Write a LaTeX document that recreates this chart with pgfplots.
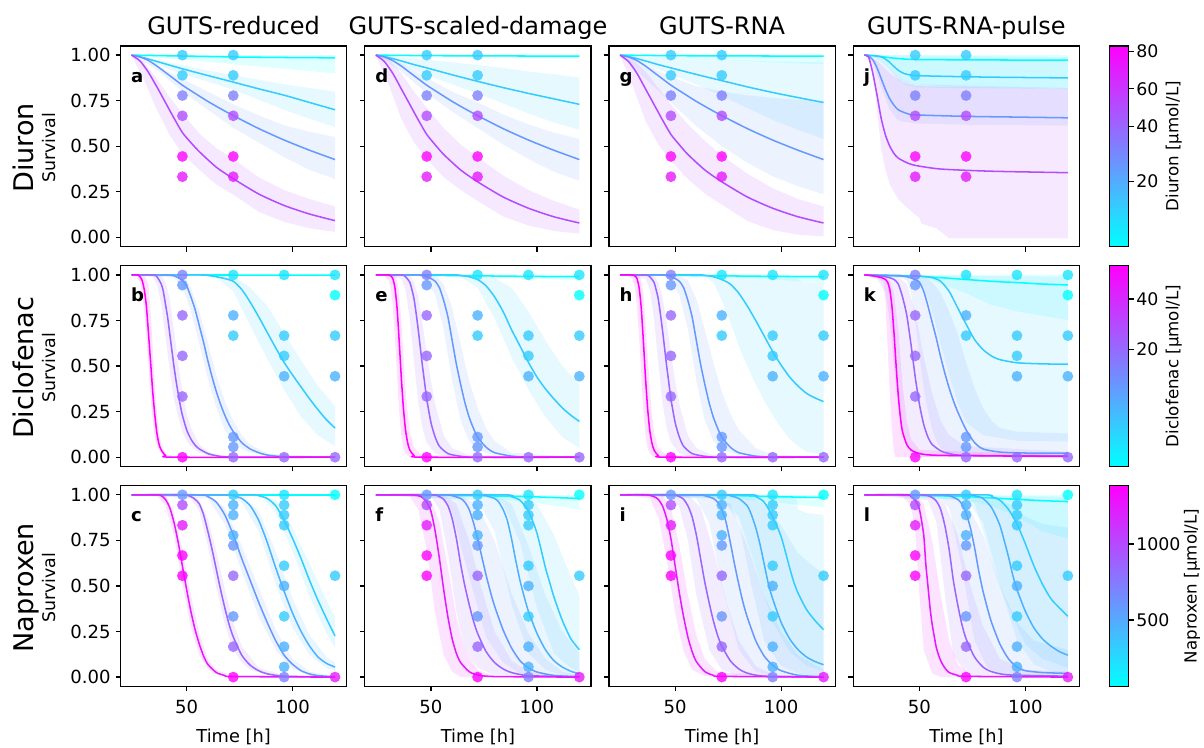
\documentclass[border=0pt]{standalone}
\usepackage{fontspec}
\setmainfont{DejaVu Sans}
\usepackage{pgfplots}
\pgfplotsset{compat=1.18}
\definecolor{k0}{rgb}{0,1,1}
\definecolor{k1}{rgb}{0.1,0.9,1}
\definecolor{k2}{rgb}{0.2,0.8,1}
\definecolor{k3}{rgb}{0.3,0.7,1}
\definecolor{k4}{rgb}{0.4,0.6,1}
\definecolor{k5}{rgb}{0.5,0.5,1}
\definecolor{k6}{rgb}{0.6,0.4,1}
\definecolor{k7}{rgb}{0.7,0.3,1}
\definecolor{k8}{rgb}{0.8,0.2,1}
\definecolor{k9}{rgb}{0.9,0.1,1}
\definecolor{k10}{rgb}{1,0,1}
\pgfplotsset{
  colormap={coolmap}{rgb=(0,1,1) rgb=(1,0,1)},
  panel/.style={
    scale only axis, width=162.86pt, height=144.36pt, anchor=north west,
    xmin=18.8, xmax=125.5, ymin=-0.05, ymax=1.05,
    xtick={50,100}, ytick={0,0.25,0.5,0.75,1},
    xticklabels={}, yticklabels={},
    xtick pos=left, ytick pos=left,
    tick align=outside, major tick length=3.6pt,
    axis line style={line width=0.9pt, black},
    tick style={line width=0.9pt, black},
    tick label style={font=\fontsize{13}{15}\selectfont, black},
    xticklabel style={yshift=-2.9pt},
  },
  ylab/.style={yticklabels={0.00,0.25,0.50,0.75,1.00}},
  xlab/.style={xticklabels={50,100}},
  cbar/.style={colorbar, point meta min=0, point meta max=1,
    colorbar style={scale only axis, width=13.97pt, height=144.36pt,
      at={(parent axis.north east)}, anchor=north west, xshift=12.8pt,
      ytick pos=right, yticklabel pos=right,
      tick align=outside, major tick length=3.6pt,
      tick style={line width=0.9pt, black},
      axis line style={line width=0.9pt, black},
      tick label style={font=\fontsize{12.5}{15}\selectfont},
      yticklabel style={xshift=-1.5pt},
      #1}},
}
\newcommand{\cv}[3][]{\addplot[#2, line width=1.1pt, mark=none, smooth, tension=0.4, #1] coordinates {#3};}
\newcommand{\bd}[2]{\addplot[fill=#1, fill opacity=0.12, draw=none, mark=none] coordinates {#2} -- cycle;}
\newcommand{\dts}[2]{\addplot[only marks, mark=*, mark size=3.9pt, mark options={fill=#1, draw opacity=0, fill opacity=0.8}] coordinates {#2};}
\newcommand{\lett}[1]{\node[anchor=base west, font=\bfseries\fontsize{13}{15}\selectfont] at (rel axis cs:0.025,0.82) {#1};}
\newcommand{\dotsDiu}{%
\dts{k2}{(48,1)(72,1)(48,0.889)(72,0.889)}
\dts{k5}{(48,0.778)(72,0.778)}
\dts{k7}{(48,0.667)(72,0.667)}
\dts{k10}{(48,0.444)(72,0.444)}
\dts{k9}{(48,0.333)(72,0.333)}}
\newcommand{\dotsDic}{%
\dts{k0}{(120,0.889)}
\dts{k1}{(72,1)(96,1)(120,1)}
\dts{k2}{(72,0.667)(96,0.667)(120,0.667)(96,0.556)}
\dts{k3}{(72,0.778)(96,0.444)(120,0.444)}
\dts{k4}{(48,0.944)(72,0.111)(72,0.056)}
\dts{k5}{(48,1)}
\dts{k6}{(48,0.778)(48,0.556)(48,0.333)(72,0)(96,0)(120,0)}
\dts{k10}{(48,0)}}
\newcommand{\dotsNap}{%
\dts{k0}{(120,1)}
\dts{k1}{(96,1)}
\dts{k2}{(72,1)(96,0.944)(96,0.889)(96,0.833)(96,0.611)(96,0.333)(120,0.556)}
\dts{k3}{(72,0.944)(72,0.889)(72,0.778)(96,0.5)(96,0.167)(96,0.056)}
\dts{k4}{(48,1)(72,0.722)(72,0.333)}
\dts{k5}{(96,0)}
\dts{k6}{(72,0.556)(72,0.167)}
\dts{k7}{(48,0.944)}
\dts{k9}{(48,0.833)(120,0)}
\dts{k10}{(48,0.667)(48,0.556)(72,0)}}
\begin{document}
\begin{tikzpicture}
\path[use as bounding box] (0pt,0pt) rectangle (866.88pt,-537.84pt);
% ================= Row 1: Diuron =================
\begin{axis}[panel, ylab, at={(86.76pt,-33.12pt)}]
\bd{k0}{(24,1)(120,1)(120,0.90)(96,0.925)(72,0.95)(48,0.975)(24,1)}
\bd{k2}{(24,1)(36,0.975)(48,0.945)(60,0.915)(72,0.89)(84,0.865)(96,0.84)(108,0.82)(120,0.80)(120,0.605)(108,0.65)(96,0.70)(84,0.755)(72,0.81)(60,0.855)(48,0.895)(36,0.95)(24,1)}
\bd{k4}{(24,1)(36,0.94)(48,0.87)(60,0.80)(72,0.73)(84,0.67)(96,0.615)(108,0.58)(120,0.55)(120,0.32)(108,0.37)(96,0.44)(84,0.52)(72,0.60)(60,0.70)(48,0.80)(36,0.92)(24,1)}
\bd{k7}{(24,1)(30,0.96)(36,0.87)(42,0.77)(48,0.68)(56,0.57)(64,0.49)(72,0.43)(84,0.33)(96,0.26)(108,0.21)(120,0.17)(120,0.03)(108,0.05)(96,0.085)(84,0.14)(72,0.235)(64,0.29)(56,0.37)(48,0.46)(42,0.56)(36,0.70)(30,0.86)(24,1)}
\cv{k0}{(24,1)(48,0.995)(72,0.99)(96,0.987)(120,0.985)}
\cv{k2}{(24,1)(30,0.985)(36,0.965)(42,0.945)(48,0.925)(60,0.888)(72,0.852)(84,0.815)(96,0.78)(108,0.74)(120,0.70)}
\cv{k4}{(24,1)(28,0.99)(32,0.97)(36,0.94)(40,0.905)(44,0.87)(48,0.835)(54,0.79)(60,0.746)(66,0.706)(72,0.668)(84,0.597)(96,0.534)(108,0.478)(120,0.427)}
\cv{k7}{(24,1)(28,0.968)(32,0.905)(36,0.825)(40,0.74)(44,0.655)(48,0.575)(52,0.52)(56,0.47)(64,0.385)(72,0.322)(84,0.238)(96,0.175)(108,0.128)(120,0.092)}
\dotsDiu
\lett{a}
\end{axis}
\begin{axis}[panel, at={(262.66pt,-33.12pt)}]
\bd{k0}{(24,1)(120,1)(120,0.98)(72,0.99)(24,1)}
\bd{k2}{(24,1)(36,0.99)(48,0.975)(60,0.96)(72,0.945)(84,0.93)(96,0.91)(108,0.895)(120,0.877)(120,0.59)(108,0.63)(96,0.68)(84,0.735)(72,0.79)(60,0.84)(48,0.89)(36,0.945)(24,1)}
\bd{k4}{(24,1)(36,0.955)(48,0.875)(60,0.80)(72,0.74)(84,0.675)(96,0.62)(108,0.575)(120,0.54)(120,0.31)(108,0.36)(96,0.43)(84,0.51)(72,0.60)(60,0.69)(48,0.79)(36,0.91)(24,1)}
\bd{k7}{(24,1)(30,0.98)(36,0.9)(42,0.80)(48,0.71)(56,0.60)(64,0.51)(72,0.44)(84,0.34)(96,0.26)(108,0.2)(120,0.153)(120,0.02)(108,0.035)(96,0.065)(84,0.115)(72,0.2)(64,0.26)(56,0.33)(48,0.43)(42,0.52)(36,0.65)(30,0.84)(24,1)}
\cv{k0}{(24,1)(48,0.997)(72,0.996)(120,0.994)}
\cv{k2}{(24,1)(30,0.987)(36,0.968)(42,0.948)(48,0.93)(60,0.892)(72,0.856)(84,0.822)(96,0.79)(108,0.76)(120,0.73)}
\cv{k4}{(24,1)(28,0.99)(32,0.97)(36,0.94)(40,0.905)(44,0.87)(48,0.835)(54,0.79)(60,0.746)(66,0.706)(72,0.668)(84,0.597)(96,0.534)(108,0.478)(120,0.427)}
\cv{k7}{(24,1)(28,0.965)(32,0.9)(36,0.815)(40,0.73)(44,0.645)(48,0.565)(52,0.508)(56,0.455)(64,0.37)(72,0.305)(84,0.222)(96,0.16)(108,0.113)(120,0.079)}
\dotsDiu
\lett{d}
\end{axis}
\begin{axis}[panel, at={(438.48pt,-33.12pt)}]
\bd{k0}{(24,1)(120,1)(120,0.95)(96,0.96)(72,0.975)(48,0.99)(24,1)}
\bd{k2}{(24,1)(48,0.99)(72,0.975)(96,0.965)(120,0.96)(120,0.54)(108,0.59)(96,0.645)(84,0.71)(72,0.775)(60,0.84)(48,0.895)(36,0.95)(24,1)}
\bd{k4}{(24,1)(36,0.95)(48,0.88)(60,0.83)(72,0.80)(84,0.78)(96,0.765)(108,0.755)(120,0.75)(120,0.236)(108,0.28)(96,0.335)(84,0.41)(72,0.50)(60,0.61)(48,0.74)(36,0.87)(24,1)}
\bd{k7}{(24,1)(30,0.98)(36,0.91)(42,0.82)(48,0.73)(56,0.62)(64,0.53)(72,0.45)(84,0.35)(96,0.27)(108,0.21)(120,0.17)(120,0.005)(108,0.015)(96,0.04)(84,0.09)(72,0.18)(64,0.24)(56,0.32)(48,0.42)(42,0.51)(36,0.64)(30,0.83)(24,1)}
\cv{k0}{(24,1)(48,0.997)(72,0.996)(120,0.994)}
\cv{k2}{(24,1)(30,0.987)(36,0.968)(42,0.948)(48,0.93)(60,0.894)(72,0.86)(84,0.826)(96,0.795)(108,0.767)(120,0.74)}
\cv{k4}{(24,1)(28,0.99)(32,0.97)(36,0.94)(40,0.905)(44,0.87)(48,0.835)(54,0.79)(60,0.746)(66,0.706)(72,0.668)(84,0.597)(96,0.534)(108,0.478)(120,0.427)}
\cv{k7}{(24,1)(28,0.965)(32,0.9)(36,0.815)(40,0.73)(44,0.645)(48,0.565)(52,0.508)(56,0.455)(64,0.37)(72,0.305)(84,0.222)(96,0.16)(108,0.113)(120,0.079)}
\dotsDiu
\lett{g}
\end{axis}
\begin{axis}[panel, at={(614.38pt,-33.12pt)},
  cbar={ytick={0.325,0.6,0.787,0.972}, yticklabels={20,40,60,80}}]
\bd{k0}{(24,1)(120,1)(120,0.815)(96,0.82)(72,0.825)(60,0.83)(48,0.84)(42,0.87)(36,0.93)(30,0.98)(24,1)}
\bd{k2}{(24,1)(120,0.99)(120,0.815)(60,0.82)(48,0.825)(44,0.835)(40,0.86)(36,0.92)(32,0.97)(28,0.995)(24,1)}
\bd{k4}{(24,1)(30,0.99)(36,0.93)(42,0.87)(48,0.84)(120,0.82)(120,0.613)(72,0.618)(48,0.625)(40,0.64)(36,0.70)(32,0.82)(28,0.96)(24,1)}
\bd{k7}{(24,1)(30,0.97)(36,0.90)(42,0.85)(48,0.83)(120,0.815)(120,-0.005)(64,-0.005)(58,0.05)(51,0.075)(50,0.107)(48,0.125)(44,0.165)(40,0.21)(36,0.29)(34,0.37)(32,0.48)(30,0.70)(28,0.90)(26,0.98)(24,1)}
\cv{k0}{(24,1)(30,0.995)(36,0.986)(42,0.979)(48,0.976)(72,0.974)(120,0.972)}
\cv{k2}{(24,1)(28,0.998)(32,0.99)(34,0.978)(36,0.96)(38,0.937)(40,0.917)(42,0.903)(44,0.895)(48,0.888)(60,0.884)(84,0.879)(120,0.875)}
\cv{k4}{(24,1)(26,0.995)(28,0.975)(30,0.93)(32,0.87)(34,0.81)(36,0.76)(38,0.725)(40,0.70)(44,0.68)(48,0.672)(72,0.664)(96,0.66)(120,0.656)}
\cv{k7}{(24,1)(26,0.99)(28,0.90)(30,0.78)(32,0.65)(34,0.56)(36,0.50)(38,0.46)(40,0.435)(44,0.41)(48,0.395)(60,0.375)(84,0.363)(120,0.355)}
\dotsDiu
\lett{j}
\end{axis}
% ================= Row 2: Diclofenac =================
\begin{axis}[panel, ylab, at={(86.76pt,-191.38pt)}]
\bd{k2}{(24,1)(64,1)(72,0.995)(80,0.93)(88,0.83)(96,0.68)(104,0.53)(112,0.39)(120,0.28)(120,0.06)(112,0.12)(104,0.22)(96,0.37)(88,0.54)(80,0.72)(72,0.91)(64,0.985)(56,1)(24,1)}
\bd{k4}{(24,1)(48,1)(52,0.93)(56,0.80)(60,0.63)(64,0.45)(68,0.31)(72,0.2)(76,0.12)(80,0.07)(88,0.02)(120,0)(88,0.005)(80,0.025)(76,0.045)(72,0.085)(68,0.15)(64,0.27)(60,0.43)(56,0.62)(52,0.80)(48,0.93)(44,0.985)(24,1)}
\bd{k6}{(24,1)(38,1)(40,0.96)(42,0.87)(44,0.7)(46,0.52)(48,0.36)(50,0.24)(52,0.16)(56,0.07)(60,0.03)(68,0.005)(120,0)(60,0.01)(56,0.025)(52,0.06)(50,0.09)(48,0.14)(46,0.22)(44,0.32)(42,0.48)(40,0.66)(38,0.84)(36,0.95)(34,0.99)(24,1)}
\bd{k10}{(24,1)(30,1)(32,0.95)(33,0.8)(34,0.6)(35,0.4)(36,0.24)(37,0.13)(38,0.07)(40,0.02)(44,0.0)(120,0)(42,0)(38,0.02)(36,0.06)(35,0.11)(34,0.2)(33,0.34)(32,0.5)(31,0.66)(30,0.8)(29,0.9)(28,0.96)(26,0.995)(24,1)}
\cv{k0}{(24,1)(120,0.999)}
\cv{k2}{(24,1)(56,1)(60,0.997)(64,0.99)(68,0.98)(72,0.965)(76,0.92)(80,0.85)(84,0.77)(88,0.685)(92,0.60)(96,0.52)(100,0.45)(104,0.385)(108,0.32)(112,0.26)(116,0.205)(120,0.16)}
\cv{k4}{(24,1)(40,1)(44,0.995)(46,0.985)(48,0.97)(50,0.94)(52,0.88)(54,0.81)(56,0.72)(58,0.63)(60,0.53)(62,0.44)(64,0.36)(66,0.29)(68,0.23)(70,0.18)(72,0.14)(76,0.08)(80,0.045)(84,0.025)(88,0.012)(96,0.003)(120,0)}
\cv{k6}{(24,1)(34,1)(36,0.99)(38,0.95)(39,0.91)(40,0.84)(41,0.77)(42,0.68)(43,0.59)(44,0.5)(45,0.42)(46,0.35)(47,0.285)(48,0.23)(50,0.15)(52,0.1)(54,0.066)(56,0.045)(60,0.02)(64,0.008)(72,0.001)(120,0)}
\cv{k10}{(24,1)(27,1)(28,0.99)(29,0.97)(30,0.92)(31,0.83)(32,0.68)(33,0.52)(34,0.36)(35,0.23)(36,0.13)(37,0.07)(38,0.04)(40,0.01)(44,0)(120,0)}
\dotsDic
\lett{b}
\end{axis}
\begin{axis}[panel, at={(262.66pt,-191.38pt)}]
\bd{k0}{(24,1)(120,1)(120,0.97)(72,0.99)(24,1)}
\bd{k2}{(24,1)(72,1)(80,0.985)(88,0.93)(96,0.80)(104,0.64)(112,0.50)(120,0.40)(120,0.05)(112,0.11)(104,0.22)(96,0.37)(88,0.55)(80,0.76)(72,0.93)(64,0.99)(24,1)}
\bd{k4}{(24,1)(52,1)(56,0.95)(60,0.82)(64,0.62)(68,0.42)(72,0.27)(76,0.16)(80,0.09)(88,0.025)(120,0)(80,0.01)(72,0.04)(68,0.09)(64,0.2)(60,0.42)(56,0.70)(52,0.89)(48,0.97)(44,0.995)(24,1)}
\bd{k6}{(24,1)(40,1)(42,0.96)(44,0.88)(46,0.74)(48,0.57)(50,0.42)(52,0.29)(56,0.12)(60,0.05)(68,0.01)(120,0)(56,0.005)(52,0.02)(48,0.08)(46,0.16)(44,0.3)(42,0.52)(40,0.76)(38,0.92)(36,0.98)(24,1)}
\bd{k10}{(24,1)(33,1)(34,0.97)(35,0.9)(36,0.75)(37,0.56)(38,0.38)(39,0.24)(40,0.14)(42,0.05)(46,0.01)(120,0)(40,0)(38,0.02)(37,0.05)(36,0.12)(35,0.25)(34,0.45)(33,0.66)(32,0.83)(31,0.93)(30,0.975)(28,0.995)(24,1)}
\cv{k0}{(24,1)(48,0.998)(72,0.995)(96,0.992)(120,0.99)}
\cv{k2}{(24,1)(60,1)(64,0.997)(68,0.99)(72,0.975)(76,0.94)(80,0.88)(84,0.80)(88,0.70)(92,0.61)(96,0.52)(100,0.44)(104,0.375)(108,0.32)(112,0.27)(116,0.23)(120,0.196)}
\cv{k4}{(24,1)(44,1)(48,0.99)(50,0.98)(52,0.965)(54,0.93)(56,0.86)(58,0.77)(60,0.64)(62,0.51)(64,0.40)(66,0.30)(68,0.22)(70,0.16)(72,0.11)(76,0.055)(80,0.025)(88,0.006)(96,0.001)(120,0)}
\cv{k6}{(24,1)(36,1)(38,0.99)(40,0.96)(41,0.92)(42,0.87)(43,0.79)(44,0.70)(45,0.60)(46,0.50)(47,0.41)(48,0.32)(50,0.19)(52,0.11)(54,0.06)(58,0.02)(64,0.005)(72,0)(120,0)}
\cv{k10}{(24,1)(30,1)(31,0.995)(32,0.98)(33,0.93)(34,0.82)(35,0.64)(36,0.44)(37,0.27)(38,0.15)(39,0.08)(40,0.04)(42,0.01)(46,0)(120,0)}
\dotsDic
\lett{e}
\end{axis}
\begin{axis}[panel, at={(438.48pt,-191.38pt)}]
\bd{k0}{(24,1)(120,1)(120,0.955)(96,0.975)(72,0.99)(24,1)}
\bd{k2}{(24,1)(96,0.995)(104,0.985)(108,0.98)(110,0.96)(120,0.955)(120,0.013)(112,0.03)(108,0.06)(104,0.10)(100,0.16)(96,0.23)(92,0.31)(88,0.40)(84,0.50)(80,0.61)(76,0.74)(72,0.86)(68,0.96)(64,0.99)(60,1)(24,1)}
\bd{k4}{(24,1)(52,1)(56,0.97)(60,0.87)(64,0.70)(68,0.52)(72,0.36)(76,0.24)(80,0.15)(88,0.05)(96,0.015)(120,0)(80,0.01)(72,0.04)(68,0.09)(64,0.2)(60,0.42)(56,0.70)(52,0.89)(48,0.97)(44,0.995)(24,1)}
\bd{k6}{(24,1)(40,1)(42,0.96)(44,0.88)(46,0.74)(48,0.57)(50,0.42)(52,0.29)(56,0.12)(60,0.05)(68,0.01)(120,0)(56,0.005)(52,0.02)(48,0.08)(46,0.16)(44,0.3)(42,0.52)(40,0.76)(38,0.92)(36,0.98)(24,1)}
\bd{k10}{(24,1)(33,1)(34,0.97)(35,0.9)(36,0.75)(37,0.56)(38,0.38)(39,0.24)(40,0.14)(42,0.05)(46,0.01)(120,0)(40,0)(38,0.02)(37,0.05)(36,0.12)(35,0.25)(34,0.45)(33,0.66)(32,0.83)(31,0.93)(30,0.975)(28,0.995)(24,1)}
\cv{k0}{(24,1)(48,0.998)(72,0.995)(96,0.992)(120,0.99)}
\cv{k2}{(24,1)(60,1)(64,0.998)(68,0.99)(72,0.975)(76,0.95)(80,0.90)(84,0.83)(88,0.75)(92,0.665)(96,0.58)(100,0.505)(104,0.44)(108,0.39)(112,0.35)(116,0.325)(120,0.305)}
\cv{k4}{(24,1)(44,1)(48,0.99)(50,0.98)(52,0.965)(54,0.93)(56,0.86)(58,0.77)(60,0.64)(62,0.51)(64,0.40)(66,0.30)(68,0.22)(70,0.16)(72,0.11)(76,0.055)(80,0.025)(88,0.006)(96,0.001)(120,0)}
\cv{k6}{(24,1)(36,1)(38,0.99)(40,0.96)(41,0.92)(42,0.87)(43,0.79)(44,0.70)(45,0.60)(46,0.50)(47,0.41)(48,0.32)(50,0.19)(52,0.11)(54,0.06)(58,0.02)(64,0.005)(72,0)(120,0)}
\cv{k10}{(24,1)(30,1)(31,0.995)(32,0.98)(33,0.93)(34,0.82)(35,0.64)(36,0.44)(37,0.27)(38,0.15)(39,0.08)(40,0.04)(42,0.01)(46,0)(120,0)}
\dotsDic
\lett{h}
\end{axis}
\begin{axis}[panel, at={(614.38pt,-191.38pt)},
  cbar={ytick={0.584,0.834}, yticklabels={20,40}}]
\bd{k0}{(24,1)(120,1)(120,0.753)(108,0.775)(96,0.80)(84,0.835)(72,0.90)(64,0.935)(56,0.97)(48,0.99)(24,1)}
\bd{k2}{(24,1)(120,0.99)(120,0.086)(96,0.09)(80,0.12)(72,0.19)(68,0.30)(64,0.45)(60,0.62)(56,0.80)(52,0.93)(48,0.98)(24,1)}
\bd{k4}{(24,1)(52,0.99)(56,0.96)(60,0.90)(64,0.80)(68,0.68)(72,0.52)(76,0.38)(80,0.27)(84,0.2)(88,0.16)(96,0.14)(120,0.13)(120,0.01)(64,0.02)(60,0.05)(58,0.09)(56,0.15)(54,0.25)(52,0.38)(50,0.55)(48,0.75)(46,0.9)(44,0.97)(40,0.99)(24,1)}
\bd{k6}{(24,1)(40,0.99)(44,0.95)(48,0.8)(52,0.55)(56,0.35)(60,0.2)(64,0.12)(72,0.06)(120,0.03)(120,0)(48,0.0)(44,0.06)(42,0.14)(40,0.28)(38,0.5)(36,0.75)(34,0.9)(30,0.98)(24,1)}
\bd{k10}{(24,1)(36,0.97)(38,0.9)(40,0.7)(42,0.4)(44,0.2)(46,0.1)(50,0.04)(120,0.01)(120,0)(38.5,0)(38,0.03)(37,0.15)(36,0.35)(35,0.6)(34,0.85)(33,0.96)(30,0.985)(24,1)}
\cv{k0}{(24,1)(48,0.993)(60,0.985)(72,0.975)(84,0.965)(96,0.958)(108,0.95)(120,0.945)}
\cv{k2}{(24,1)(48,0.995)(56,0.985)(60,0.965)(64,0.91)(68,0.82)(72,0.73)(76,0.645)(80,0.59)(84,0.555)(88,0.535)(96,0.518)(108,0.512)(120,0.51)}
\cv{k4}{(24,1)(40,0.995)(44,0.99)(48,0.975)(50,0.96)(52,0.91)(54,0.83)(56,0.74)(58,0.65)(60,0.55)(62,0.46)(64,0.38)(66,0.31)(68,0.25)(72,0.15)(76,0.08)(80,0.045)(88,0.028)(100,0.023)(120,0.022)}
\cv{k6}{(24,1)(34,0.99)(38,0.975)(40,0.95)(42,0.88)(44,0.78)(46,0.62)(48,0.44)(50,0.29)(52,0.18)(54,0.11)(56,0.07)(60,0.035)(64,0.02)(72,0.01)(120,0.008)}
\cv{k10}{(24,1)(28,0.995)(32,0.985)(34,0.975)(35,0.96)(36,0.92)(37,0.83)(38,0.68)(39,0.5)(40,0.34)(41,0.22)(42,0.14)(44,0.07)(46,0.04)(50,0.02)(60,0.01)(120,0.004)}
\dotsDic
\lett{k}
\end{axis}
% ================= Row 3: Naproxen =================
\begin{axis}[panel, ylab, xlab, at={(86.76pt,-349.70pt)}]
\bd{k2}{(24,1)(84,1)(92,0.97)(100,0.82)(108,0.62)(116,0.42)(120,0.33)(120,0.16)(116,0.24)(108,0.44)(100,0.69)(92,0.90)(86,0.985)(80,1)(24,1)}
\bd{k3}{(24,1)(76,1)(84,0.91)(92,0.69)(100,0.43)(108,0.23)(116,0.11)(120,0.08)(120,0.035)(116,0.05)(108,0.12)(100,0.27)(92,0.51)(84,0.80)(76,0.96)(70,1)(24,1)}
\bd{k4}{(24,1)(60,1)(68,0.93)(76,0.72)(84,0.49)(92,0.26)(100,0.10)(108,0.03)(120,0.005)(120,0)(108,0.008)(100,0.045)(92,0.15)(84,0.33)(76,0.58)(68,0.84)(60,0.98)(24,1)}
\bd{k6}{(24,1)(52,1)(56,0.97)(60,0.87)(64,0.69)(68,0.48)(72,0.30)(76,0.17)(84,0.05)(96,0.01)(120,0)(88,0.01)(80,0.04)(76,0.08)(72,0.15)(68,0.29)(64,0.49)(60,0.72)(56,0.91)(52,0.98)(24,1)}
\bd{k9}{(24,1)(40,1)(44,0.9)(48,0.7)(52,0.45)(56,0.24)(60,0.1)(64,0.04)(72,0.005)(120,0)(64,0.015)(60,0.045)(56,0.12)(52,0.27)(48,0.51)(44,0.78)(40,0.94)(36,0.995)(24,1)}
\cv{k0}{(24,1)(120,1)}
\cv{k2}{(24,1)(80,1)(84,0.995)(88,0.98)(92,0.94)(96,0.86)(100,0.76)(104,0.65)(108,0.53)(112,0.42)(116,0.32)(120,0.225)}
\cv{k3}{(24,1)(68,1)(72,0.995)(76,0.98)(80,0.94)(84,0.86)(88,0.74)(92,0.60)(96,0.47)(100,0.35)(104,0.25)(108,0.17)(112,0.11)(116,0.075)(120,0.055)}
\cv{k4}{(24,1)(56,1)(60,0.99)(64,0.96)(68,0.89)(72,0.78)(76,0.65)(80,0.53)(84,0.41)(88,0.30)(92,0.20)(96,0.12)(100,0.07)(104,0.035)(108,0.017)(112,0.008)(120,0.002)}
\cv{k6}{(24,1)(48,1)(52,0.99)(54,0.975)(56,0.95)(58,0.89)(60,0.80)(62,0.70)(64,0.59)(66,0.48)(68,0.38)(70,0.29)(72,0.22)(76,0.12)(80,0.065)(84,0.035)(88,0.018)(96,0.005)(120,0)}
\cv{k9}{(24,1)(36,1)(38,0.995)(40,0.975)(42,0.93)(44,0.85)(46,0.74)(48,0.61)(50,0.48)(52,0.36)(54,0.26)(56,0.18)(58,0.115)(60,0.07)(64,0.025)(68,0.009)(72,0.003)(120,0)}
\dotsNap
\lett{c}
\end{axis}
\begin{axis}[panel, xlab, at={(262.66pt,-349.70pt)}]
\bd{k0}{(24,1)(120,1)(120,0.92)(96,0.96)(72,0.985)(48,0.995)(24,1)}
\bd{k2}{(24,1)(92,1)(100,0.95)(108,0.78)(116,0.55)(120,0.45)(120,0.03)(116,0.05)(108,0.13)(100,0.38)(92,0.74)(84,0.95)(80,0.99)(24,1)}
\bd{k3}{(24,1)(80,1)(88,0.95)(96,0.72)(104,0.45)(112,0.25)(120,0.13)(120,0.0)(112,0.01)(104,0.04)(96,0.13)(88,0.4)(80,0.8)(72,0.97)(24,1)}
\bd{k4}{(24,1)(64,1)(72,0.94)(80,0.75)(88,0.46)(96,0.24)(104,0.10)(112,0.03)(120,0.01)(120,0)(100,0.005)(92,0.02)(84,0.08)(76,0.22)(68,0.55)(60,0.9)(56,0.98)(24,1)}
\bd{k6}{(24,1)(56,1)(62,0.95)(68,0.75)(74,0.48)(80,0.25)(88,0.09)(96,0.03)(120,0)(80,0.01)(72,0.05)(66,0.15)(62,0.36)(58,0.68)(54,0.92)(50,0.99)(24,1)}
\bd{k9}{(24,1)(46,1)(50,0.97)(54,0.85)(58,0.6)(62,0.33)(66,0.15)(72,0.04)(80,0.005)(120,0)(64,0)(60,0.03)(56,0.12)(52,0.35)(48,0.7)(44,0.92)(40,0.99)(24,1)}
\cv{k0}{(24,1)(48,0.998)(72,0.995)(96,0.99)(120,0.98)}
\cv{k2}{(24,1)(84,1)(88,0.99)(92,0.97)(96,0.91)(100,0.79)(104,0.60)(106,0.52)(108,0.44)(112,0.31)(116,0.21)(120,0.15)}
\cv{k3}{(24,1)(72,1)(76,0.995)(80,0.98)(82,0.96)(84,0.92)(86,0.86)(88,0.76)(90,0.64)(92,0.53)(94,0.44)(96,0.36)(100,0.24)(104,0.15)(108,0.09)(112,0.055)(116,0.032)(120,0.018)}
\cv{k4}{(24,1)(56,1)(60,0.995)(64,0.98)(66,0.96)(68,0.92)(70,0.85)(72,0.76)(74,0.66)(76,0.56)(78,0.47)(80,0.39)(84,0.26)(88,0.16)(92,0.09)(96,0.05)(100,0.028)(108,0.009)(120,0.002)}
\cv{k6}{(24,1)(50,1)(54,0.99)(56,0.975)(58,0.94)(60,0.87)(62,0.76)(64,0.62)(66,0.50)(68,0.40)(70,0.31)(72,0.24)(76,0.14)(80,0.08)(84,0.045)(88,0.025)(96,0.008)(120,0.001)}
\cv{k9}{(24,1)(40,1)(44,0.995)(46,0.985)(48,0.96)(50,0.91)(52,0.80)(54,0.65)(56,0.48)(58,0.33)(60,0.21)(62,0.13)(64,0.08)(68,0.03)(72,0.012)(80,0.003)(120,0)}
\dotsNap
\lett{f}
\end{axis}
\begin{axis}[panel, xlab, at={(438.48pt,-349.70pt)}]
\bd{k0}{(24,1)(120,1)(120,0.93)(96,0.96)(72,0.985)(24,1)}
\bd{k2}{(24,1)(104,1)(107,0.99)(108,0.92)(112,0.9)(120,0.89)(120,0.03)(112,0.06)(104,0.14)(96,0.30)(88,0.6)(80,0.88)(72,0.98)(24,1)}
\bd{k3}{(24,1)(84,1)(92,0.95)(100,0.83)(108,0.68)(116,0.6)(120,0.57)(120,0.0)(108,0.02)(100,0.06)(92,0.2)(86,0.5)(80,0.85)(72,0.98)(24,1)}
\bd{k4}{(24,1)(68,1)(76,0.95)(84,0.72)(92,0.45)(100,0.25)(108,0.12)(120,0.04)(120,0)(96,0.005)(88,0.03)(80,0.15)(72,0.5)(66,0.85)(60,0.98)(24,1)}
\bd{k6}{(24,1)(56,1)(62,0.93)(68,0.7)(74,0.42)(80,0.2)(88,0.06)(96,0.015)(120,0)(80,0.005)(72,0.04)(66,0.15)(60,0.45)(56,0.75)(52,0.93)(48,0.99)(24,1)}
\bd{k9}{(24,1)(44,1)(48,0.93)(52,0.72)(56,0.45)(60,0.23)(64,0.1)(70,0.025)(120,0)(64,0.005)(58,0.04)(54,0.14)(50,0.35)(46,0.65)(42,0.88)(38,0.98)(24,1)}
\cv{k0}{(24,1)(72,0.997)(96,0.99)(120,0.985)}
\cv{k2}{(24,1)(84,1)(88,0.99)(92,0.96)(96,0.88)(100,0.77)(104,0.6)(106,0.52)(108,0.46)(112,0.37)(116,0.31)(120,0.26)}
\cv{k3}{(24,1)(72,1)(76,0.995)(80,0.98)(84,0.94)(86,0.89)(88,0.82)(90,0.73)(92,0.62)(94,0.51)(96,0.43)(100,0.30)(104,0.21)(108,0.15)(112,0.11)(116,0.085)(120,0.068)}
\cv{k4}{(24,1)(60,1)(64,0.995)(68,0.98)(70,0.96)(72,0.92)(74,0.85)(76,0.74)(78,0.62)(80,0.51)(82,0.41)(84,0.33)(88,0.2)(92,0.115)(96,0.065)(100,0.035)(108,0.01)(120,0.002)}
\cv{k6}{(24,1)(48,1)(52,0.99)(54,0.975)(56,0.94)(58,0.88)(60,0.78)(62,0.65)(64,0.52)(66,0.41)(68,0.31)(70,0.23)(72,0.17)(76,0.09)(80,0.045)(84,0.022)(92,0.005)(120,0)}
\cv{k9}{(24,1)(36,1)(40,0.99)(42,0.975)(44,0.94)(46,0.87)(48,0.76)(50,0.61)(52,0.46)(54,0.33)(56,0.22)(58,0.14)(60,0.085)(64,0.03)(68,0.01)(72,0.004)(120,0)}
\dotsNap
\lett{i}
\end{axis}
\begin{axis}[panel, xlab, at={(614.38pt,-349.70pt)},
  cbar={ytick={0.33,0.709}, yticklabels={500,1000}}]
\bd{k0}{(24,1)(120,1)(120,0.76)(108,0.8)(96,0.88)(84,0.94)(72,0.97)(48,0.99)(24,1)}
\bd{k2}{(24,1)(120,0.99)(120,0.02)(112,0.03)(104,0.07)(96,0.2)(88,0.5)(80,0.85)(72,0.97)(24,1)}
\bd{k3}{(24,1)(84,0.99)(92,0.95)(100,0.88)(108,0.84)(120,0.82)(120,0.05)(108,0.1)(100,0.18)(92,0.38)(86,0.55)(80,0.8)(76,0.95)(72,0.99)(24,1)}
\bd{k4}{(24,1)(64,1)(72,0.96)(80,0.78)(88,0.5)(96,0.3)(104,0.2)(120,0.15)(120,0)(100,0.0)(90,0.01)(82,0.05)(76,0.2)(70,0.6)(64,0.93)(58,0.99)(24,1)}
\bd{k6}{(24,1)(56,1)(62,0.95)(68,0.78)(74,0.5)(80,0.28)(88,0.1)(100,0.04)(120,0.03)(120,0)(80,0.0)(72,0.02)(66,0.12)(62,0.45)(58,0.85)(54,0.97)(24,1)}
\bd{k9}{(24,1)(48,1)(52,0.95)(56,0.75)(60,0.45)(64,0.2)(68,0.07)(74,0.01)(120,0)(60,0)(56,0.02)(52,0.15)(50,0.45)(48,0.8)(46,0.94)(42,0.99)(24,1)}
\cv{k0}{(24,1)(48,0.997)(72,0.99)(96,0.975)(108,0.968)(120,0.963)}
\cv{k2}{(24,1)(80,1)(84,0.99)(88,0.97)(92,0.92)(96,0.84)(100,0.73)(104,0.61)(108,0.51)(112,0.43)(116,0.38)(120,0.333)}
\cv{k3}{(24,1)(72,1)(76,0.995)(80,0.98)(84,0.93)(88,0.83)(92,0.66)(94,0.56)(96,0.48)(100,0.36)(104,0.27)(108,0.21)(112,0.17)(116,0.14)(120,0.12)}
\cv{k4}{(24,1)(60,1)(64,0.995)(68,0.975)(70,0.95)(72,0.90)(74,0.82)(76,0.71)(78,0.58)(80,0.47)(82,0.38)(84,0.30)(88,0.18)(92,0.10)(96,0.055)(100,0.035)(108,0.025)(120,0.02)}
\cv{k6}{(24,1)(50,1)(54,0.995)(56,0.985)(58,0.965)(60,0.92)(62,0.83)(64,0.70)(66,0.53)(68,0.40)(70,0.29)(72,0.21)(76,0.11)(80,0.055)(84,0.03)(92,0.012)(120,0.005)}
\cv{k9}{(24,1)(44,1)(46,0.99)(48,0.97)(50,0.92)(52,0.78)(53,0.62)(54,0.50)(55,0.38)(56,0.29)(58,0.16)(60,0.09)(62,0.05)(64,0.025)(68,0.01)(72,0.004)(120,0)}
\dotsNap
\lett{l}
\end{axis}
% ================= Texts =================
\foreach \cx/\tt in {168.2/GUTS-reduced, 344.1/GUTS-scaled-damage, 519.9/GUTS-RNA, 695.8/GUTS-RNA-pulse}
  \node[anchor=base, font=\fontsize{17.3}{20}\selectfont] at (\cx pt,-24.7pt) {\tt};
\foreach \cx in {168.2, 344.1, 519.9, 695.8}
  \node[anchor=base, font=\fontsize{12.8}{15}\selectfont] at (\cx pt,-534.6pt) {Time [h]};
\foreach \cy/\nm in {-106.5/Diuron, -264.8/Diclofenac, -423.1/Naproxen}{
  \node[rotate=90, anchor=base, font=\fontsize{19.5}{22}\selectfont] at (24.0pt,\cy pt) {\nm};
  \node[rotate=90, anchor=base, font=\fontsize{12.5}{15}\selectfont] at (39.6pt,\cy pt) {Survival};
}
\node[rotate=90, anchor=base, font=\fontsize{12}{14}\selectfont] at (848.5pt,-105.3pt) {Diuron [µmol/L]};
\node[rotate=90, anchor=base, font=\fontsize{12}{14}\selectfont] at (848.5pt,-263.6pt) {Diclofenac [µmol/L]};
\node[rotate=90, anchor=base, font=\fontsize{12}{14}\selectfont] at (861.5pt,-421.9pt) {Naproxen [µmol/L]};
\end{tikzpicture}
\end{document}
